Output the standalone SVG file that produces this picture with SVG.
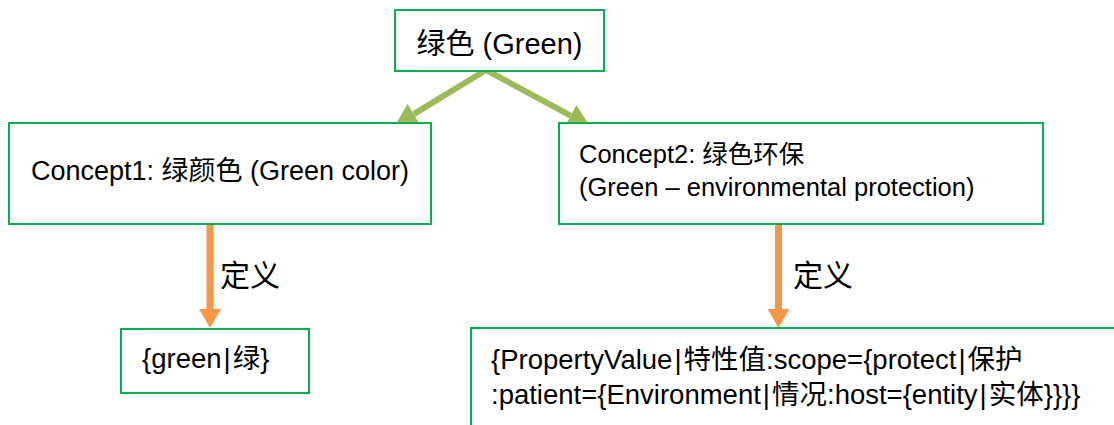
<svg xmlns="http://www.w3.org/2000/svg" width="1114" height="425" viewBox="0 0 1114 425">
  <style>
    .box { fill: #ffffff; stroke: #00B050; stroke-width: 2; }
    .txt { font-family: "Liberation Sans", "Noto Sans CJK SC", sans-serif; fill: #000000; }
    .green-link { stroke: #9BBB59; stroke-width: 6; fill: none; }
    .orange-link { stroke: #F79646; stroke-width: 7; fill: none; }
  </style>
  <defs>
    <marker id="head-green" markerUnits="userSpaceOnUse" markerWidth="22" markerHeight="24" refX="0" refY="12" orient="auto" viewBox="0 0 22 24">
      <path d="M0,0 L22,12 L0,24 z" fill="#9BBB59"/>
    </marker>
    <marker id="head-orange" markerUnits="userSpaceOnUse" markerWidth="19" markerHeight="22" refX="0" refY="11" orient="auto" viewBox="0 0 19 22">
      <path d="M0,0 L19,11 L0,22 z" fill="#F79646"/>
    </marker>
  </defs>

  <!-- connectors (drawn first so box fills sit over the arrow tips) -->
  <g id="connectors">
    <line class="green-link" x1="486" y1="70" x2="413.8" y2="114.1" marker-end="url(#head-green)"/>
    <line class="green-link" x1="486" y1="70" x2="570.6" y2="115.6" marker-end="url(#head-green)"/>
    <line class="orange-link" x1="210" y1="224" x2="210" y2="309" marker-end="url(#head-orange)"/>
    <line class="orange-link" x1="778.5" y1="224" x2="778.5" y2="309" marker-end="url(#head-orange)"/>
    <text class="txt" x="220" y="286" font-size="30">定义</text>
    <text class="txt" x="793" y="286" font-size="30">定义</text>
  </g>

  <g id="green">
    <rect class="box" x="395" y="10" width="209" height="61"/>
    <text class="txt" x="499.5" y="54" font-size="29" text-anchor="middle">绿色 (Green)</text>
  </g>

  <g id="concept1">
    <rect class="box" x="9" y="123" width="422" height="101"/>
    <text class="txt" x="220" y="180" font-size="27" text-anchor="middle">Concept1: 绿颜色 (Green color)</text>
  </g>

  <g id="concept2">
    <rect class="box" x="559" y="123" width="484" height="101"/>
    <text class="txt" x="579" y="163" font-size="25.5">Concept2: 绿色环保</text>
    <text class="txt" x="579" y="196" font-size="25.5">(Green – environmental protection)</text>
  </g>

  <g id="def1">
    <rect class="box" x="121" y="329" width="188" height="64"/>
    <text class="txt" x="142" y="368" font-size="27.5">{green<tspan dx="2">|</tspan><tspan dx="2">绿}</tspan></text>
  </g>

  <g id="def2">
    <rect class="box" x="471" y="328" width="700" height="150"/>
    <text class="txt" x="491" y="369" font-size="27.5">{PropertyValue<tspan dx="2">|</tspan><tspan dx="2">特性值:scope={protect</tspan><tspan dx="2">|</tspan><tspan dx="2">保护</tspan></text>
    <text class="txt" x="491" y="404" font-size="27.5">:patient={Environment<tspan dx="2">|</tspan><tspan dx="2">情况:host={entity</tspan><tspan dx="2">|</tspan><tspan dx="2">实体}}}}</tspan></text>
  </g>
</svg>
